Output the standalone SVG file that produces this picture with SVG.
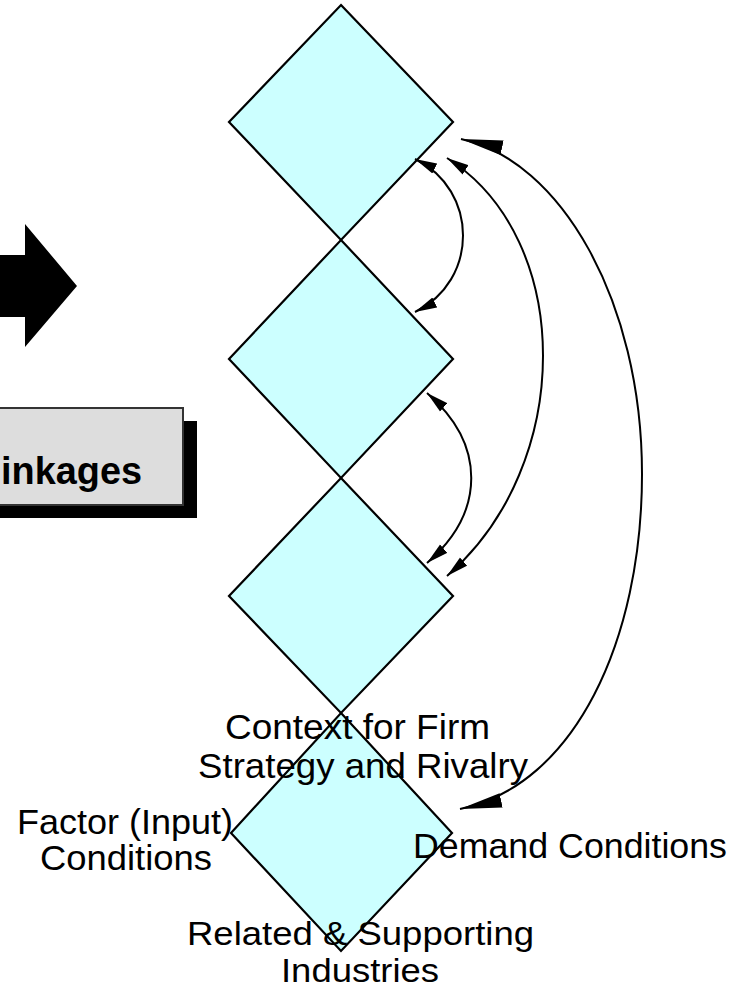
<svg xmlns="http://www.w3.org/2000/svg" width="749" height="989" viewBox="0 0 749 989">
<style>
.dia{fill:#CCFFFF;stroke:#000;stroke-width:2.2;stroke-linejoin:miter}
.lbl{font-family:"Liberation Sans",Arial,sans-serif;font-size:35px;fill:#000;text-anchor:middle}
.sm{font-size:33px}
.con{fill:none;stroke:#000;stroke-width:2}
</style>
<defs>
<marker id="ah" markerUnits="userSpaceOnUse" markerWidth="22" markerHeight="12" refX="20" refY="5" orient="auto-start-reverse" viewBox="0 0 20 10"><path d="M0,0 L20,5 L0,10 z" fill="#000"/></marker>
<marker id="ahL" markerUnits="userSpaceOnUse" markerWidth="42" markerHeight="16" refX="40" refY="7" orient="auto-start-reverse" viewBox="0 0 40 14"><path d="M0,0 L40,7 L0,14 z" fill="#000"/></marker>
</defs>
<g id="bigArrow"><polygon points="-5,255 25,255 25,224 77,286 25,347 25,317 -5,317" fill="#000"/></g>
<g id="linkagesBox">
<rect x="0" y="421" width="197" height="97" fill="#000"/>
<rect x="-5" y="408" width="188" height="97" fill="#DDDDDD" stroke="#333" stroke-width="2"/>
<text x="1" y="484" font-family="'Liberation Sans',Arial,sans-serif" font-weight="bold" font-size="38" textLength="141" lengthAdjust="spacingAndGlyphs">inkages</text>
</g>
<g id="diamond1"><polygon class="dia" points="341,5 453,122 341,240 229,122"/></g>
<g id="diamond2"><polygon class="dia" points="341,240 453,359 341,478 229,359"/></g>
<g id="diamond3"><polygon class="dia" points="341,478 453,596 341,713 229,596"/></g>
<g id="diamond4"><polygon class="dia" points="341,713 452,833 341,951 231,833"/></g>
<g id="connectors">
<path class="con" d="M415,159 C479,190 479,281 415,312" marker-start="url(#ah)" marker-end="url(#ah)"/>
<path class="con" d="M427,393 C486,444 486,512 427,563" marker-start="url(#ah)" marker-end="url(#ah)"/>
<path class="con" d="M447,158 C575,239 575,465 447,576" marker-start="url(#ah)" marker-end="url(#ah)"/>
<path class="con" d="M461,139 C560,160 642,300 642,474 C642,640 575,785 460,809" marker-start="url(#ahL)" marker-end="url(#ahL)"/>
</g>
<g id="labels">
<text class="lbl" x="357.5" y="739" textLength="265" lengthAdjust="spacingAndGlyphs">Context for Firm</text>
<text class="lbl" x="363" y="778" textLength="330" lengthAdjust="spacingAndGlyphs">Strategy and Rivalry</text>
<text class="lbl" x="125" y="834" textLength="216" lengthAdjust="spacingAndGlyphs">Factor (Input)</text>
<text class="lbl" x="126" y="870" textLength="172" lengthAdjust="spacingAndGlyphs">Conditions</text>
<text class="lbl" x="570" y="858" textLength="314" lengthAdjust="spacingAndGlyphs">Demand Conditions</text>
<text class="lbl sm" x="360.5" y="945" textLength="347" lengthAdjust="spacingAndGlyphs">Related &amp; Supporting</text>
<text class="lbl sm" x="360" y="982" textLength="158" lengthAdjust="spacingAndGlyphs">Industries</text>
</g>
</svg>
